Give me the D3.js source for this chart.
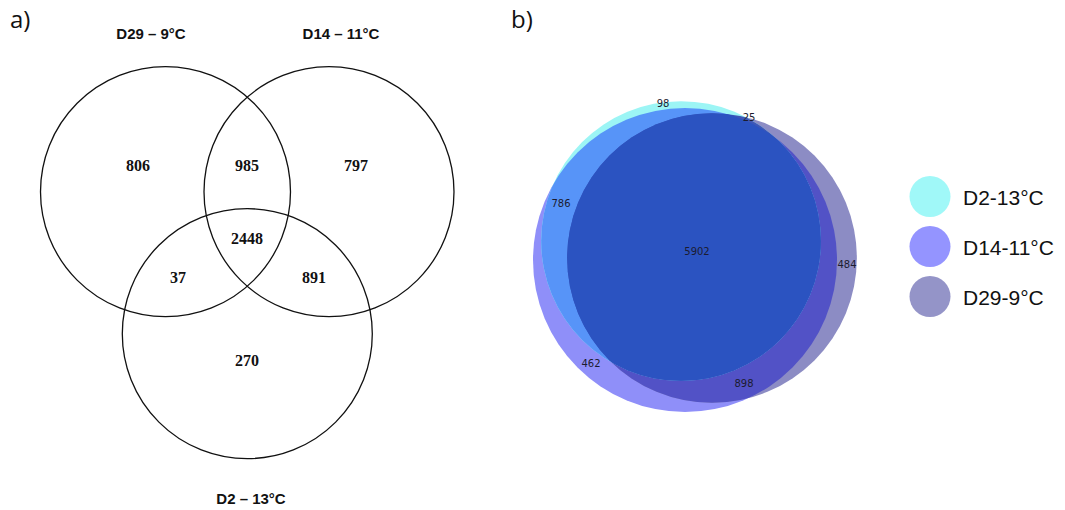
<!DOCTYPE html>
<html>
<head>
<meta charset="utf-8">
<script src="https://cdn.jsdelivr.net/npm/d3@7"></script>
<style>
  html, body { margin: 0; padding: 0; background: #fff; }
  svg { display: block; }
</style>
</head>
<body>
<svg id="chart" width="1065" height="510"></svg>
<script>
// ---- Panel a: three-way overlap counts ----
const setsA = ["D29 – 9°C", "D14 – 11°C", "D2 – 13°C"];
// regions in order: D29 only, D29∩D14, D14 only, all, D29∩D2, D14∩D2, D2 only
const regionCountsA = [806, 985, 797, 2448, 37, 891, 270];

// ---- Panel b: proportional overlap ----
const setsB = ["D2-13°C", "D14-11°C", "D29-9°C"];
const colorsB = ["#a0f8f8", "#9494ff", "#9494c8"];
// which sets each region belongs to (index into setsB)
const regionKeysB = [[0], [0, 2], [0, 1], [0, 1, 2], [1, 2], [2], [1]];
const regionCountsB = [98, 25, 786, 5902, 898, 484, 462];

const svg = d3.select("#chart");

// panel letters
svg.append("text").attr("x", 10).attr("y", 28)
  .attr("font-family", "'Open Sans', sans-serif").attr("font-size", 24)
  .attr("fill", "#111").text("a)");
svg.append("text").attr("x", 511).attr("y", 28)
  .attr("font-family", "'Open Sans', sans-serif").attr("font-size", 24)
  .attr("fill", "#111").text("b)");

// ---------- panel a ----------
const gA = svg.append("g");
const rA = 125;
const centersA = [[165.5, 191.7], [329, 191.7], [247.3, 333.7]];
const titlePosA = [[151, 33], [341, 33], [251, 498]];
const labelPosA = [[138, 165], [247, 165], [356, 165], [247, 238], [178, 277], [314, 277], [247, 360]];

gA.selectAll("circle").data(setsA).join("circle")
  .attr("cx", (d, i) => centersA[i][0])
  .attr("cy", (d, i) => centersA[i][1])
  .attr("r", rA)
  .attr("fill", "none")
  .attr("stroke", "#111")
  .attr("stroke-width", 1.3);

gA.selectAll("text.title").data(setsA).join("text")
  .attr("class", "title")
  .attr("x", (d, i) => titlePosA[i][0])
  .attr("y", (d, i) => titlePosA[i][1])
  .attr("text-anchor", "middle")
  .attr("dominant-baseline", "central")
  .attr("font-family", "'Liberation Sans', Arial, sans-serif")
  .attr("font-weight", "bold")
  .attr("font-size", 15)
  .attr("fill", "#111")
  .text(d => d);

gA.selectAll("text.count").data(regionCountsA).join("text")
  .attr("class", "count")
  .attr("x", (d, i) => labelPosA[i][0])
  .attr("y", (d, i) => labelPosA[i][1])
  .attr("text-anchor", "middle")
  .attr("dominant-baseline", "central")
  .attr("font-family", "'Liberation Serif', 'Times New Roman', serif")
  .attr("font-weight", "bold")
  .attr("font-size", 16)
  .attr("fill", "#111")
  .text(d => d);

// ---------- panel b ----------
const gB = svg.append("g");
// set totals -> radius via area-proportional scale
const totalsB = setsB.map((s, i) =>
  d3.sum(regionCountsB.filter((c, j) => regionKeysB[j].includes(i))));
const rScale = d3.scaleSqrt().domain([0, d3.max(totalsB)]).range([0, 152]);
const centersB = [[681, 241], [685, 260], [712, 258]];
const circlesB = setsB.map((s, i) => ({ cx: centersB[i][0], cy: centersB[i][1], r: rScale(totalsB[i]) }));

const defs = svg.append("defs");
circlesB.forEach((c, i) => {
  defs.append("clipPath").attr("id", "clipB" + i)
    .append("circle").attr("cx", c.cx).attr("cy", c.cy).attr("r", c.r);
});

function fillCircle(parent, i, color) {
  const c = circlesB[i];
  parent.append("circle").attr("cx", c.cx).attr("cy", c.cy).attr("r", c.r).attr("fill", color);
}
// region fills, painted from single sets to the full intersection
const regionFill = {
  d14: "#8f8ff9", d29: "#8c8cc4", d2: "#9cf5f5",
  d14d29: "#5252c6", d2d14: "#5794f8", d2d29: "#3f57b6", all: "#2b53c1"
};
fillCircle(gB, 1, regionFill.d14);
fillCircle(gB, 2, regionFill.d29);
fillCircle(gB.append("g").attr("clip-path", "url(#clipB1)"), 2, regionFill.d14d29);
fillCircle(gB, 0, regionFill.d2);
fillCircle(gB.append("g").attr("clip-path", "url(#clipB1)"), 0, regionFill.d2d14);
fillCircle(gB.append("g").attr("clip-path", "url(#clipB2)"), 0, regionFill.d2d29);
fillCircle(gB.append("g").attr("clip-path", "url(#clipB2)")
  .append("g").attr("clip-path", "url(#clipB1)"), 0, regionFill.all);

const labelPosB = [[663, 103], [749, 117], [561, 203], [697, 251], [744, 383], [847, 264], [591, 363]];
gB.selectAll("text.count").data(regionCountsB).join("text")
  .attr("class", "count")
  .attr("x", (d, i) => labelPosB[i][0])
  .attr("y", (d, i) => labelPosB[i][1])
  .attr("text-anchor", "middle")
  .attr("dominant-baseline", "central")
  .attr("font-family", "'DejaVu Sans', sans-serif")
  .attr("font-size", 10)
  .attr("fill", "#1c1c30")
  .text(d => d);

// legend
const legend = svg.append("g");
const legY = d3.scalePoint().domain(setsB).range([196.5, 296.5]);
legend.selectAll("circle").data(setsB).join("circle")
  .attr("cx", 930).attr("cy", d => legY(d)).attr("r", 20.5)
  .attr("fill", (d, i) => colorsB[i]);
legend.selectAll("text").data(setsB).join("text")
  .attr("x", 963).attr("y", d => legY(d) + 1)
  .attr("dominant-baseline", "central")
  .attr("font-family", "'Liberation Sans', Arial, sans-serif")
  .attr("font-size", 21)
  .attr("fill", "#111")
  .text(d => d);
</script>
</body>
</html>
